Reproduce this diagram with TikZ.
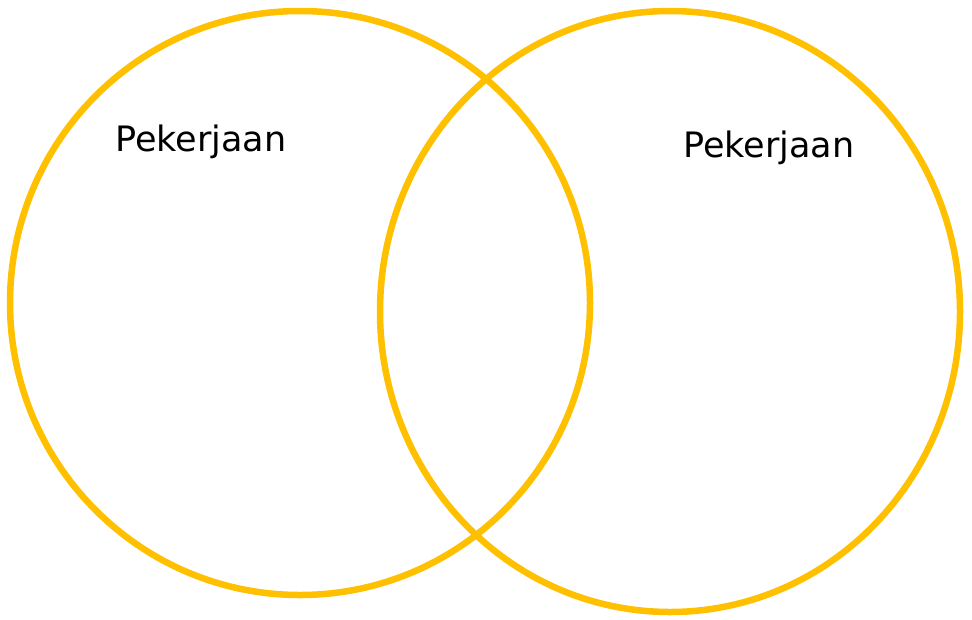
\documentclass[tikz,border=0pt]{standalone}
\usepackage{fontspec}
\setmainfont{DejaVu Sans}
\definecolor{gold}{HTML}{FFC000}
\begin{document}
\begin{tikzpicture}[x=1pt,y=-1pt,
  ring/.style={draw=gold,line width=6.5pt},
  lbl/.style={anchor=base west,inner sep=0pt,font=\fontsize{35}{40}\selectfont}]
\useasboundingbox (0,0) rectangle (972,619);
\fill[white] (0,0) rectangle (972,619);
\draw[ring] (300,303) ellipse [x radius=290, y radius=292];
\draw[ring] (670,311.5) ellipse [x radius=290, y radius=300.5];
\node[lbl] (l1) at (115,151) {Pekerjaan};
\node[lbl] (l2) at (683,157) {Pekerjaan};
\end{tikzpicture}
\end{document}
